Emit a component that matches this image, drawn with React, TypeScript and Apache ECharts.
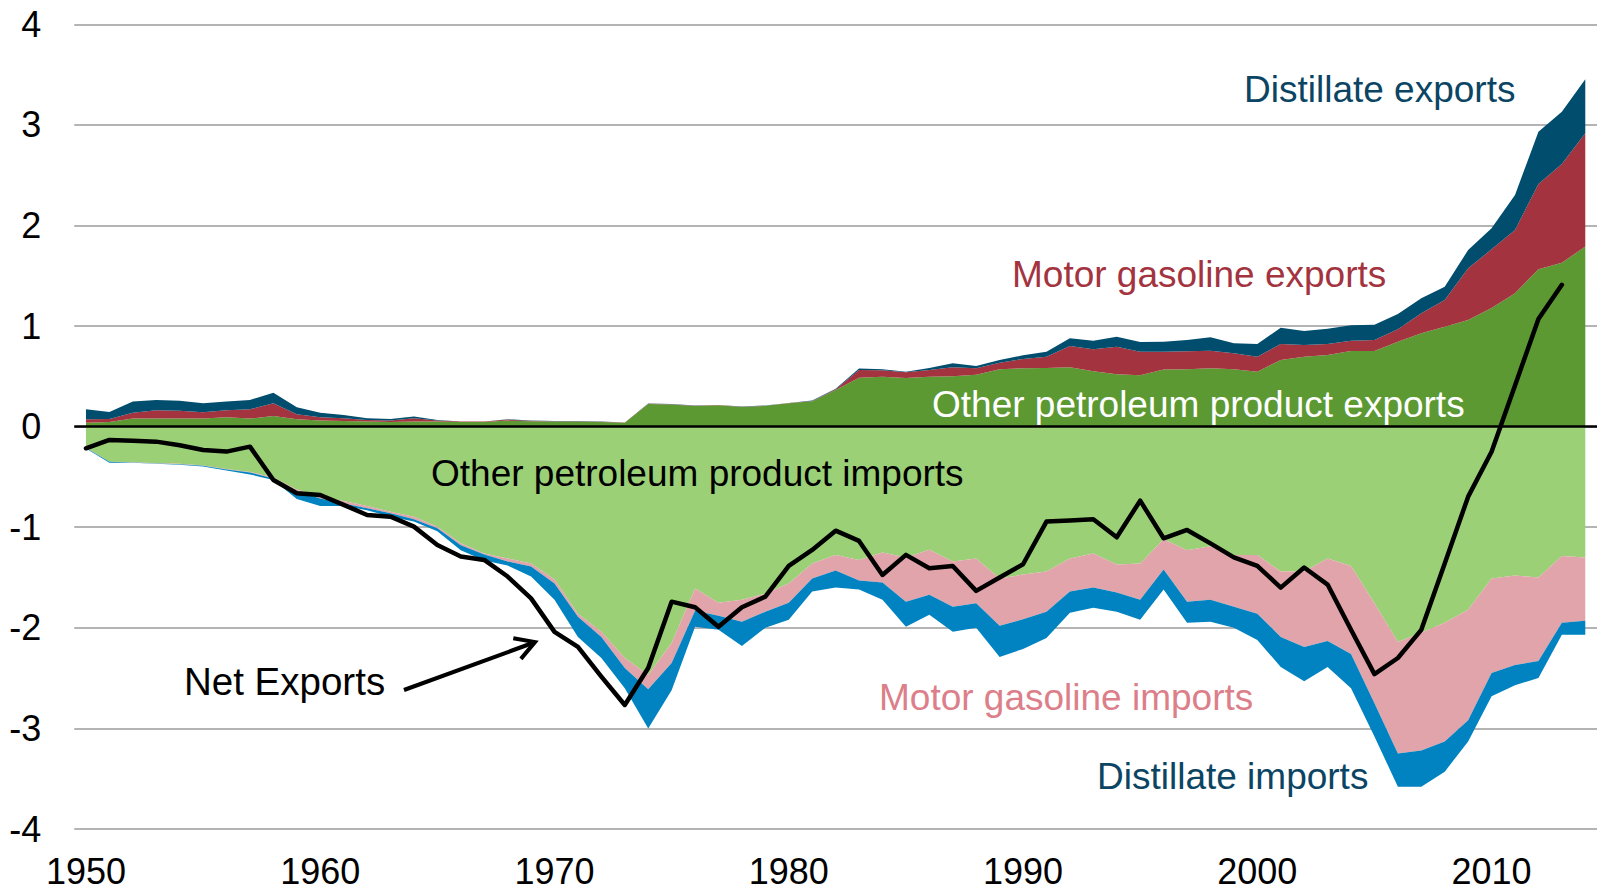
import React, { useEffect, useRef } from "react";
import * as echarts from "echarts";

const years = [
  "1950", "1951", "1952", "1953", "1954", "1955", "1956", "1957", "1958", "1959",
  "1960", "1961", "1962", "1963", "1964", "1965", "1966", "1967", "1968", "1969",
  "1970", "1971", "1972", "1973", "1974", "1975", "1976", "1977", "1978", "1979",
  "1980", "1981", "1982", "1983", "1984", "1985", "1986", "1987", "1988", "1989",
  "1990", "1991", "1992", "1993", "1994", "1995", "1996", "1997", "1998", "1999",
  "2000", "2001", "2002", "2003", "2004", "2005", "2006", "2007", "2008", "2009",
  "2010", "2011", "2012", "2013", "2014",
];

const otherExports = [
  0.04, 0.046, 0.08, 0.08, 0.08, 0.08, 0.093, 0.08, 0.106, 0.073,
  0.06, 0.056, 0.05, 0.046, 0.05, 0.05, 0.046, 0.046, 0.06, 0.053,
  0.05, 0.05, 0.046, 0.04, 0.226, 0.22, 0.206, 0.212, 0.196, 0.207,
  0.232, 0.252, 0.365, 0.487, 0.497, 0.484, 0.497, 0.5, 0.517, 0.57,
  0.58, 0.584, 0.59, 0.55, 0.52, 0.51, 0.567, 0.57, 0.58, 0.57,
  0.547, 0.663, 0.696, 0.713, 0.753, 0.753, 0.845, 0.928, 0.994, 1.06,
  1.18, 1.326, 1.565, 1.63, 1.79,
];

const mogasExports = [
  0.033, 0.03, 0.059, 0.083, 0.079, 0.063, 0.07, 0.093, 0.127, 0.05,
  0.033, 0.027, 0.016, 0.014, 0.033, 0.01, 0.004, 0.004, 0.01, 0.005,
  0.003, 0.003, 0.002, 0.001, 0.002, 0.002, 0.002, 0.002, 0.002, 0.002,
  0.002, 0.004, 0.007, 0.076, 0.063, 0.056, 0.066, 0.09, 0.063, 0.066,
  0.093, 0.112, 0.212, 0.22, 0.275, 0.235, 0.178, 0.18, 0.175, 0.16,
  0.149, 0.159, 0.116, 0.109, 0.102, 0.109, 0.123, 0.199, 0.266, 0.515,
  0.583, 0.629, 0.848, 0.981, 1.127,
];

const distExports = [
  0.1, 0.07, 0.11, 0.102, 0.099, 0.09, 0.086, 0.092, 0.105, 0.07,
  0.046, 0.033, 0.017, 0.016, 0.017, 0.006, 0.002, 0.001, 0.003, 0.004,
  0.002, 0.002, 0.002, 0.001, 0.002, 0.002, 0.002, 0.002, 0.002, 0.002,
  0.002, 0.004, 0.006, 0.014, 0.01, 0.005, 0.02, 0.04, 0.023, 0.027,
  0.037, 0.049, 0.077, 0.085, 0.099, 0.097, 0.1, 0.112, 0.134, 0.099,
  0.126, 0.162, 0.139, 0.152, 0.153, 0.152, 0.152, 0.149, 0.132, 0.181,
  0.209, 0.348, 0.519, 0.52, 0.536,
];

const otherImports = [
  -0.21, -0.348, -0.354, -0.364, -0.37, -0.385, -0.42, -0.45, -0.505, -0.625,
  -0.695, -0.74, -0.79, -0.845, -0.895, -0.994, -1.16, -1.26, -1.31, -1.36,
  -1.52, -1.86, -2.04, -2.3, -2.47, -2.15, -1.61, -1.75, -1.72, -1.66,
  -1.56, -1.36, -1.275, -1.325, -1.25, -1.3, -1.225, -1.34, -1.31, -1.51,
  -1.47, -1.44, -1.31, -1.26, -1.37, -1.36, -1.12, -1.23, -1.19, -1.275,
  -1.275, -1.44, -1.44, -1.31, -1.385, -1.755, -2.14, -2.05, -1.95, -1.82,
  -1.51, -1.48, -1.5, -1.285, -1.3,
];

const mogasImports = [
  -0.002, -0.002, -0.002, -0.002, -0.003, -0.003, -0.005, -0.005, -0.01, -0.015,
  -0.02, -0.025, -0.02, -0.015, -0.025, -0.016, -0.02, -0.01, -0.03, -0.03,
  -0.04, -0.03, -0.05, -0.1, -0.14, -0.2, -0.22, -0.13, -0.22, -0.18,
  -0.19, -0.15, -0.155, -0.205, -0.3, -0.44, -0.445, -0.45, -0.445, -0.47,
  -0.445, -0.4, -0.33, -0.34, -0.28, -0.36, -0.3, -0.51, -0.53, -0.515,
  -0.585, -0.65, -0.75, -0.82, -0.875, -0.995, -1.11, -1.17, -1.18, -1.1,
  -0.94, -0.89, -0.83, -0.665, -0.63,
];

const distImports = [
  -0.006, -0.008, -0.004, -0.004, -0.007, -0.009, -0.011, -0.02, -0.015, -0.08,
  -0.075, -0.025, -0.02, -0.035, -0.024, -0.03, -0.05, -0.06, -0.04, -0.1,
  -0.16, -0.2, -0.21, -0.2, -0.39, -0.27, -0.16, -0.14, -0.24, -0.16,
  -0.17, -0.13, -0.17, -0.09, -0.17, -0.25, -0.2, -0.25, -0.245, -0.31,
  -0.295, -0.26, -0.21, -0.2, -0.19, -0.2, -0.2, -0.21, -0.22, -0.21,
  -0.26, -0.3, -0.34, -0.26, -0.34, -0.33, -0.33, -0.36, -0.3, -0.21,
  -0.23, -0.2, -0.17, -0.12, -0.14,
];

const netExports = [
  -0.215, -0.132, -0.139, -0.149, -0.185, -0.232, -0.248, -0.199, -0.53, -0.662,
  -0.679, -0.778, -0.878, -0.895, -0.994, -1.176, -1.29, -1.325, -1.49, -1.707,
  -2.04, -2.19, -2.485, -2.767, -2.4, -1.74, -1.795, -1.99, -1.795, -1.69,
  -1.385, -1.226, -1.034, -1.136, -1.474, -1.275, -1.408, -1.385, -1.633, -1.5,
  -1.368, -0.944, -0.934, -0.92, -1.1, -0.736, -1.11, -1.027, -1.16, -1.3,
  -1.385, -1.6, -1.4, -1.57, -2.02, -2.46, -2.3, -2.02, -1.36, -0.696,
  -0.25, 0.41, 1.07, 1.41, null,
];

const FONT = "'Liberation Sans', Arial, Helvetica, sans-serif";

function areaSeries(name: string, data: (number | null)[], stack: string, color: string) {
  return {
    name,
    type: "line",
    stack,
    data,
    symbol: "none",
    showSymbol: false,
    lineStyle: { width: 0, color },
    itemStyle: { color },
    areaStyle: { color, opacity: 1 },
    silent: true,
    z: 2,
  };
}

function label(text: string, x: number, y: number, fill: string, size = 37) {
  return {
    type: "text",
    x,
    y,
    z: 100,
    silent: true,
    style: {
      text,
      fill,
      font: `${size}px ${FONT}`,
      align: "left",
      verticalAlign: "middle",
      textAlign: "left",
      textVerticalAlign: "middle",
    },
  };
}

export default function App() {
  const ref = useRef<HTMLDivElement>(null);

  useEffect(() => {
    if (!ref.current) return;
    const chart = echarts.init(ref.current, null, { renderer: "svg" });
    const option = {
      animation: false,
      backgroundColor: "#ffffff",
      grid: { left: 74.25, top: 24.3, width: 1527.5, height: 804.7, containLabel: false },
      xAxis: {
        type: "category",
        data: years,
        boundaryGap: true,
        axisLine: { show: false, onZero: false },
        axisTick: { show: false },
        splitLine: { show: false },
        axisLabel: {
          interval: 9,
          fontSize: 36,
          fontFamily: FONT,
          color: "#000000",
          margin: 24,
        },
      },
      yAxis: {
        type: "value",
        min: -4,
        max: 4,
        interval: 1,
        axisLine: { show: false },
        axisTick: { show: false },
        axisLabel: { fontSize: 36, fontFamily: FONT, color: "#000000", margin: 33 },
        splitLine: { lineStyle: { color: "#B4B4B4", width: 2 } },
      },
      series: [
        areaSeries("Other petroleum product exports", otherExports, "exports", "#5C9933"),
        areaSeries("Motor gasoline exports", mogasExports, "exports", "#A3343F"),
        areaSeries("Distillate exports", distExports, "exports", "#004D6D"),
        areaSeries("Other petroleum product imports", otherImports, "imports", "#9BD077"),
        areaSeries("Motor gasoline imports", mogasImports, "imports", "#E1A4AA"),
        areaSeries("Distillate imports", distImports, "imports", "#0083C0"),
        {
          name: "Net Exports",
          type: "line",
          data: netExports,
          symbol: "none",
          showSymbol: false,
          connectNulls: false,
          lineStyle: { color: "#000000", width: 4.5, join: "round", cap: "round" },
          itemStyle: { color: "#000000" },
          z: 5,
          silent: true,
          markLine: {
            silent: true,
            symbol: ["none", "none"],
            label: { show: false },
            lineStyle: { color: "#000000", width: 2.5, type: "solid" },
            data: [{ yAxis: 0 }],
          },
        },
      ],
      graphic: [
        label("Distillate exports", 1244, 89, "#0B4563"),
        label("Motor gasoline exports", 1012, 274, "#A3343F"),
        label("Other petroleum product exports", 932, 404, "#FFFFFF"),
        label("Other petroleum product imports", 431, 473.5, "#000000"),
        label("Net Exports", 184, 681, "#000000", 38.5),
        label("Motor gasoline imports", 879, 697, "#DC7F8A"),
        label("Distillate imports", 1097, 776.5, "#0B4563"),
        {
          type: "line",
          z: 100,
          silent: true,
          shape: { x1: 404, y1: 690, x2: 534, y2: 642.5 },
          style: { stroke: "#000000", lineWidth: 4 },
        },
        {
          type: "polyline",
          z: 100,
          silent: true,
          shape: { points: [[513.3, 638.2], [535, 642], [520.9, 658.9]] },
          style: { stroke: "#000000", lineWidth: 4, fill: "none", lineJoin: "miter" },
        },
      ],
    };
    chart.setOption(option as any);
    return () => chart.dispose();
  }, []);

  return (
    <div
      ref={ref}
      style={{ position: "absolute", left: 0, top: 0, width: 1597, height: 890, background: "#fff" }}
    />
  );
}
